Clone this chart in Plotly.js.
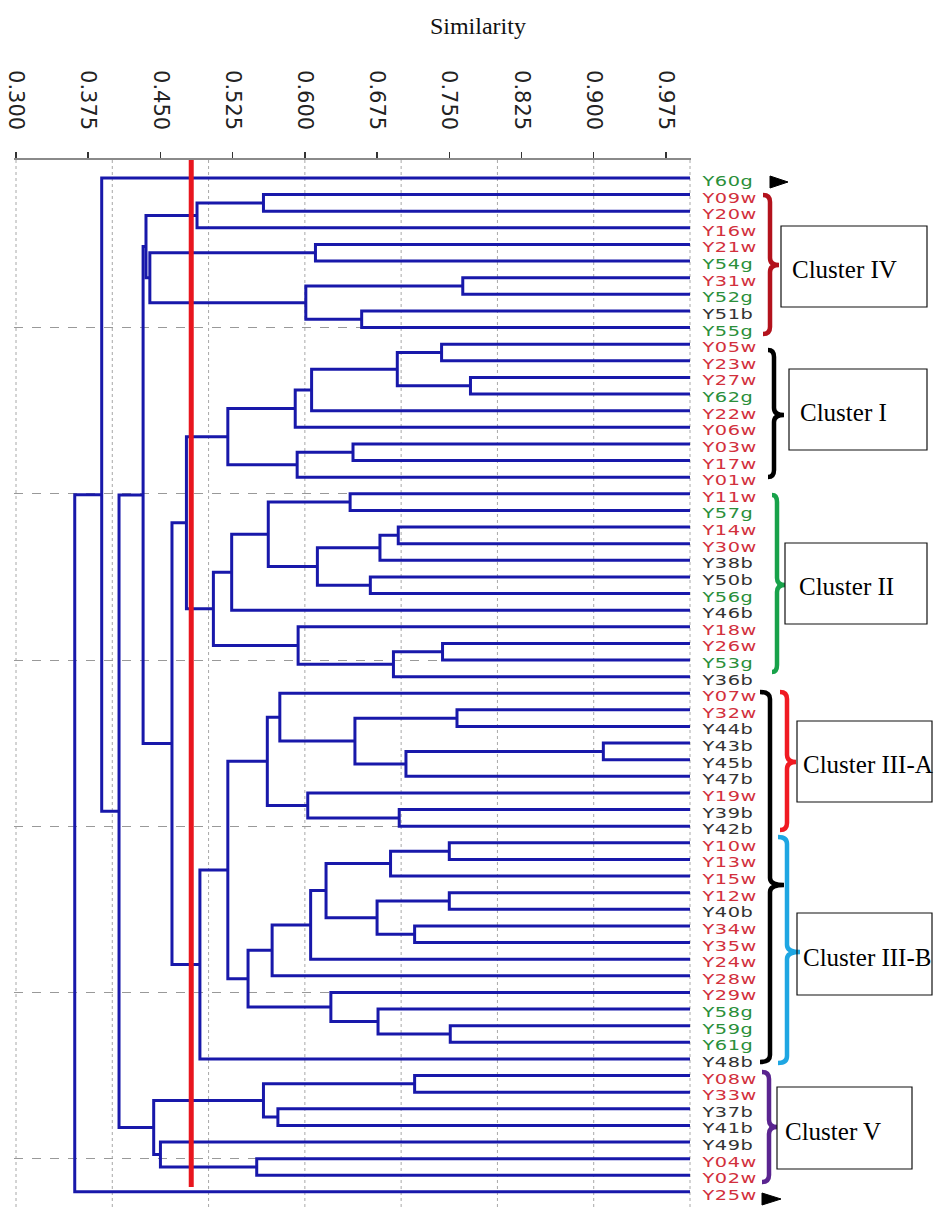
<!DOCTYPE html>
<html>
<head>
<meta charset="utf-8">
<script src="https://cdn.plot.ly/plotly-3.0.1.min.js"></script>
<style>
  html, body { margin: 0; padding: 0; background: #fff; }
  #chart { width: 939px; height: 1207px; }
  #chart .annotation-text {
    letter-spacing: 0.4px;
    transform: scaleX(1.38);
    transform-box: fill-box;
    transform-origin: 0% 50%;
  }
</style>
</head>
<body>
<div id="chart"></div>
<script>
// ---------------- DATA ----------------
const leaves = [
  'Y60g','Y09w','Y20w','Y16w','Y21w','Y54g','Y31w','Y52g','Y51b','Y55g',
  'Y05w','Y23w','Y27w','Y62g','Y22w','Y06w','Y03w','Y17w','Y01w',
  'Y11w','Y57g','Y14w','Y30w','Y38b','Y50b','Y56g','Y46b','Y18w','Y26w','Y53g','Y36b',
  'Y07w','Y32w','Y44b','Y43b','Y45b','Y47b','Y19w','Y39b','Y42b',
  'Y10w','Y13w','Y15w','Y12w','Y40b','Y34w','Y35w','Y24w','Y28w','Y29w','Y58g','Y59g','Y61g','Y48b',
  'Y08w','Y33w','Y37b','Y41b','Y49b','Y04w','Y02w','Y25w'
];

// merges: [node id, left child, right child, similarity]
const mergesClusterIV = [
  ['A1','Y09w','Y20w',0.557], ['A2','A1','Y16w',0.488], ['A3','Y21w','Y54g',0.611],
  ['A4','Y31w','Y52g',0.764], ['A5','Y51b','Y55g',0.659], ['A6','A4','A5',0.601],
  ['A7','A3','A6',0.439], ['A8','A2','A7',0.435]
];
const mergesClusterI = [
  ['I1','Y05w','Y23w',0.742], ['I2','Y27w','Y62g',0.772], ['I3','I1','I2',0.696],
  ['I4','I3','Y22w',0.607], ['I5','I4','Y06w',0.590], ['I6','Y03w','Y17w',0.650],
  ['I7','I6','Y01w',0.592], ['I8','I5','I7',0.520]
];
const mergesClusterII = [
  ['II1','Y11w','Y57g',0.647], ['II2','Y14w','Y30w',0.697], ['II3','II2','Y38b',0.678],
  ['II4','Y50b','Y56g',0.668], ['II5','II3','II4',0.613], ['II6','II1','II5',0.562],
  ['II7','II6','Y46b',0.524], ['II8','Y26w','Y53g',0.743], ['II9','II8','Y36b',0.692],
  ['II10','Y18w','II9',0.593], ['II11','II7','II10',0.505], ['G','I8','II11',0.477]
];
const mergesClusterIIIA = [
  ['a1','Y32w','Y44b',0.758], ['a2','Y43b','Y45b',0.910], ['a3','a2','Y47b',0.705],
  ['a4','a1','a3',0.652], ['a5','Y07w','a4',0.574], ['a6','Y39b','Y42b',0.698],
  ['a7','Y19w','a6',0.603], ['a8','a5','a7',0.561]
];
const mergesClusterIIIB = [
  ['b1','Y10w','Y13w',0.750], ['b2','b1','Y15w',0.689], ['b3','Y12w','Y40b',0.750],
  ['b4','Y34w','Y35w',0.714], ['b5','b3','b4',0.675], ['b6','b2','b5',0.622],
  ['b7','b6','Y24w',0.606], ['b8','b7','Y28w',0.566], ['b9','Y59g','Y61g',0.751],
  ['b10','Y58g','b9',0.676], ['b11','Y29w','b10',0.627], ['b12','b8','b11',0.541],
  ['III','a8','b12',0.520], ['III2','III','Y48b',0.491], ['B','G','III2',0.462],
  ['C','A8','B',0.432]
];
const mergesClusterV = [
  ['v1','Y08w','Y33w',0.714], ['v2','Y37b','Y41b',0.572], ['v3','v1','v2',0.557],
  ['v4','Y04w','Y02w',0.550], ['v5','Y49b','v4',0.450], ['v6','v3','v5',0.443],
  ['D','C','v6',0.407], ['E','Y60g','D',0.389], ['F','E','Y25w',0.361]
];

const cutoff = 0.482;
const xTickVals = [0.300,0.375,0.450,0.525,0.600,0.675,0.750,0.825,0.900,0.975];
const xTickText = ['0.300','0.375','0.450','0.525','0.600','0.675','0.750','0.825','0.900','0.975'];
const simGrid = [0.3,0.4,0.5,0.6,0.7,0.8,0.9,1.0];
const rowGrid = [9,19,29,39,49,59];

const clusterNames = ['Cluster IV','Cluster I','Cluster II','Cluster III-A','Cluster III-B','Cluster V'];

// ---------------- BUILD ----------------
const suffixColor = { w: '#d2303c', g: '#2a8f3a', b: '#333333' };

const allMerges = [].concat(mergesClusterIV, mergesClusterI, mergesClusterII,
  mergesClusterIIIA, mergesClusterIIIB, mergesClusterV);

const pos = {};
leaves.forEach((n, i) => { pos[n] = { x: 1.0, y: i }; });
const lx = [], ly = [];
allMerges.forEach(([id, l, r, s]) => {
  const a = pos[l], b = pos[r];
  lx.push(a.x, s, s, b.x, null);
  ly.push(a.y, a.y, b.y, b.y, null);
  pos[id] = { x: s, y: (a.y + b.y) / 2 };
});

// layout geometry
const W = 939, H = 1207;
const ML = 14, MR = 248, MT = 160, MB = 0;
const PW = W - ML - MR, PH = H - MT - MB;
const px = v => (v - ML) / PW;          // pixel x -> paper
const py = v => 1 - (v - MT) / PH;      // pixel y -> paper

const traces = [
  { x: lx, y: ly, mode: 'lines', type: 'scatter', hoverinfo: 'skip',
    line: { color: '#1818aa', width: 3 }, showlegend: false },
  { x: [cutoff, cutoff], y: [-1.15, 60.7], mode: 'lines', type: 'scatter', hoverinfo: 'skip',
    line: { color: '#e8161e', width: 5 }, showlegend: false, cliponaxis: false }
];

const shapes = [];
simGrid.forEach(v => shapes.push({
  type: 'line', xref: 'x', yref: 'paper', x0: v, x1: v, y0: 0, y1: 1, layer: 'below',
  line: { color: '#a8a8a8', width: 1, dash: 'dot' }
}));

function bracePath(xl, xs, xt, yt, ym, yb) {
  const r = 7;
  const P = (x, y) => px(x) + ',' + py(y);
  return 'M' + P(xl, yt) +
    ' Q' + P(xs, yt) + ' ' + P(xs, yt + r) +
    ' L' + P(xs, ym - r) +
    ' Q' + P(xs, ym) + ' ' + P(xt, ym) +
    ' Q' + P(xs, ym) + ' ' + P(xs, ym + r) +
    ' L' + P(xs, yb - r) +
    ' Q' + P(xs, yb) + ' ' + P(xl, yb);
}
const braces = [
  { c: '#b3121c', xl: 763, xs: 770, xt: 779, yt: 195, ym: 265, yb: 334 },
  { c: '#000000', xl: 768, xs: 774, xt: 784, yt: 350, ym: 415, yb: 477 },
  { c: '#18a24a', xl: 772, xs: 777, xt: 785, yt: 495, ym: 585, yb: 672 },
  { c: '#000000', xl: 760, xs: 770, xt: 784, yt: 692, ym: 885, yb: 1062 },
  { c: '#f01a22', xl: 780, xs: 787, xt: 796, yt: 692, ym: 762, yb: 830 },
  { c: '#1ea6e2', xl: 778, xs: 787, xt: 800, yt: 837, ym: 952, yb: 1063 },
  { c: '#5a2490', xl: 762, xs: 769, xt: 777, yt: 1072, ym: 1127, yb: 1182 }
];
braces.forEach(b => shapes.push({
  type: 'path', xref: 'paper', yref: 'paper', path: bracePath(b.xl, b.xs, b.xt, b.yt, b.ym, b.yb),
  line: { color: b.c, width: 4.5 }
}));

// triangles
[[770, 788, 182], [762, 781, 1199]].forEach(([x0, x1, yc]) => shapes.push({
  type: 'path', xref: 'paper', yref: 'paper',
  path: 'M' + px(x0) + ',' + py(yc - 6) + ' L' + px(x1) + ',' + py(yc) + ' L' + px(x0) + ',' + py(yc + 6) + ' Z',
  fillcolor: '#000', line: { color: '#000', width: 1 }
}));

// boxes with cluster names (shape labels)
const boxes = [
  { x0: 781, x1: 927, y0: 226, y1: 307, pad: 8 },
  { x0: 789, x1: 927, y0: 369, y1: 450, pad: 8 },
  { x0: 785, x1: 927, y0: 543, y1: 624, pad: 11 },
  { x0: 797, x1: 932, y0: 721, y1: 802, pad: 3 },
  { x0: 797, x1: 932, y0: 913, y1: 995, pad: 3 },
  { x0: 777, x1: 912, y0: 1087, y1: 1169, pad: 5 }
];
boxes.forEach((b, i) => {
  shapes.push({ type: 'rect', xref: 'paper', yref: 'paper',
    x0: px(b.x0), x1: px(b.x1), y0: py(b.y0), y1: py(b.y1),
    fillcolor: 'rgba(255,255,255,0)', line: { color: '#111', width: 1.2 },
    label: { text: clusterNames[i], textposition: 'middle left', padding: b.pad,
      font: { family: 'Liberation Serif, Times New Roman, serif', size: 25, color: '#000' } } });
});

const annotations = leaves.map((n, i) => ({
  xref: 'x', yref: 'y', x: 1.0, y: i, xanchor: 'left', yanchor: 'middle',
  xshift: 11, yshift: -3, showarrow: false, text: n, borderpad: 0,
  font: { family: 'DejaVu Sans, Verdana, sans-serif', size: 14,
    color: suffixColor[n.slice(-1)] }
}));

const layout = {
  width: W, height: H,
  margin: { l: ML, r: MR, t: MT, b: MB },
  paper_bgcolor: '#fff', plot_bgcolor: '#fff',
  showlegend: false,
  title: { text: 'Similarity', xref: 'container', yref: 'container', x: 0.509, y: 0.979,
    xanchor: 'center', yanchor: 'middle',
    font: { family: 'Liberation Serif, Times New Roman, serif', size: 24, color: '#111' } },
  xaxis: {
    side: 'top', range: [0.29792, 1.00104], tickmode: 'array',
    tickvals: xTickVals, ticktext: xTickText, tickangle: 90,
    tickfont: { family: 'DejaVu Sans, Verdana, sans-serif', size: 21, color: '#222' },
    ticks: 'outside', ticklen: 6, tickwidth: 1.5, tickcolor: '#333',
    ticklabelstandoff: 14,
    showline: true, linecolor: '#8a8a8a', linewidth: 2.5,
    showgrid: false, zeroline: false, fixedrange: true
  },
  yaxis: {
    range: [61.91, -1.083], tickmode: 'array', tickvals: rowGrid,
    showticklabels: false, ticks: '', showgrid: true, gridcolor: '#999',
    griddash: 'dash', gridwidth: 1, zeroline: false, showline: false, fixedrange: true
  },
  shapes: shapes,
  annotations: annotations
};

Plotly.newPlot('chart', traces, layout, { displayModeBar: false, staticPlot: true });
</script>
</body>
</html>
